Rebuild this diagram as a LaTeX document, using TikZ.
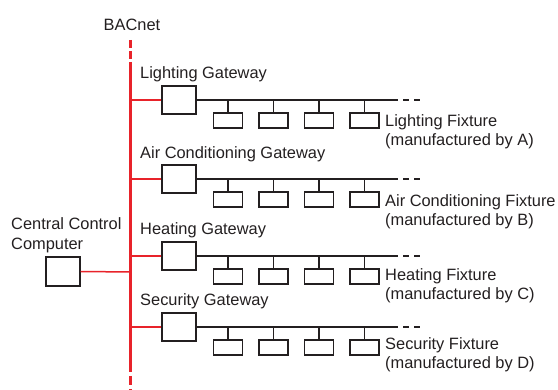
\documentclass[tikz,border=0pt]{standalone}
\usepackage{fontspec}
\setmainfont{Liberation Sans}
\definecolor{netred}{HTML}{E8232A}
\definecolor{ink}{HTML}{231F20}
\tikzset{
  lbl/.style={anchor=base west,inner sep=0pt,font=\fontsize{16.4}{19}\selectfont,text=ink},
  gwbox/.style={draw=ink,line width=1.4pt,fill=white,minimum width=34pt,minimum height=28pt,inner sep=0pt},
  fxbox/.style={draw=ink,line width=1.4pt,fill=white,minimum width=29pt,minimum height=15pt,inner sep=0pt},
  mainline/.style={draw=netred,line width=3pt},
  branch/.style={draw=netred,line width=1.5pt},
  bus/.style={draw=ink,line width=2pt},
  stem/.style={draw=ink,line width=1.6pt},
  busdash/.style={draw=ink,line width=2pt,dash pattern=on 6pt off 5pt},
}
\begin{document}
\begin{tikzpicture}[x=1pt,y=-1pt]
\useasboundingbox (0,0) rectangle (558,390);
% BACnet trunk
\node[anchor=base,inner sep=0pt,font=\fontsize{16.4}{19}\selectfont,text=ink] (bac) at (132,31) {BACnet};
\coordinate (t0) at (130,40);
\coordinate (t1) at (130,69);
\coordinate (b1) at (130,363);
\coordinate (b0) at (130,390);
\draw[mainline,dash pattern=on 8pt off 3pt] (t0) -- (t1);
\draw[mainline] (t1) -- (b1);
\draw[mainline,dash pattern=on 9pt off 4pt] (b1) -- (b0);
% central computer
\node[gwbox,minimum height=29pt] (cc) at (63,271.5) {};
\node[lbl] (cclbl1) at (11,230) {Central Control};
\node[lbl] (cclbl2) at (11,250) {Computer};
\coordinate (ccj) at (130,272);
\draw[branch] (cc.east) -- (ccj);
% rows
\foreach \r/\y/\gname/\fname/\m/\gy/\fy in {
  L/100/Lighting Gateway/Lighting Fixture/A/79/127,
  A/179/Air Conditioning Gateway/Air Conditioning Fixture/B/159/207,
  H/256/Heating Gateway/Heating Fixture/C/235/281,
  S/327/Security Gateway/Security Fixture/D/306/350}{
  \coordinate (j\r) at (130,\y);
  \node[gwbox] (g\r) at (179,\y) {};
  \node[lbl] (gl\r) at (140,\gy) {\gname};
  \draw[branch] (j\r) -- (g\r.west);
  \coordinate (e\r) at (392,\y);
  \coordinate (d\r) at (424,\y);
  \draw[bus] (g\r.east) -- (e\r);
  \draw[busdash] (e\r) -- (d\r);
  \foreach \i/\x in {1/228,2/273.5,3/319,4/364.5}{
    \node[fxbox] (f\r\i) at (\x,\y+20.5) {};
    \draw[stem] (f\r\i.north) -- (f\r\i.north |- e\r);
  }
  \node[lbl] (fl\r) at (385,\fy) {\fname};
  \node[lbl] (fm\r) at (385,\fy+19) {(manufactured by \m)};
}
\end{tikzpicture}
\end{document}
